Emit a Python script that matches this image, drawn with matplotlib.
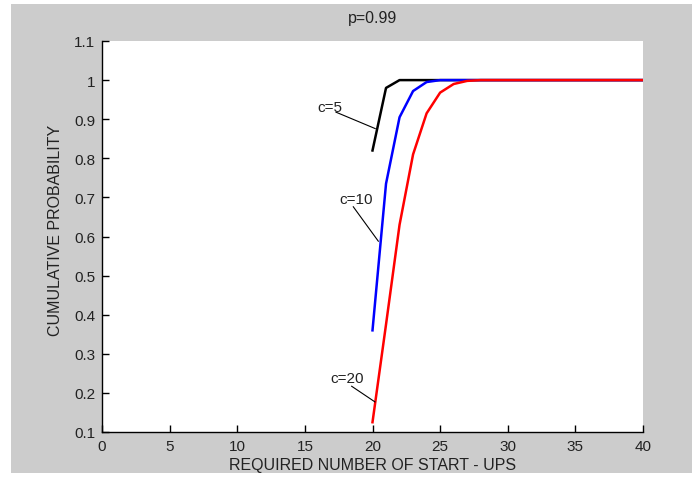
import matplotlib
matplotlib.use("Agg")
import matplotlib.pyplot as plt
from matplotlib.patches import Rectangle

plt.rcParams['font.family'] = ['Liberation Sans', 'DejaVu Sans']

# data
x_c5 = [20, 21, 22, 23, 24, 25, 26, 27, 28, 29, 30, 35, 40]
y_c5 = [0.82, 0.98, 1.0, 1.0, 1.0, 1.0, 1.0, 1.0, 1.0, 1.0, 1.0, 1.0, 1.0]
x_c10 = [20, 21, 22, 23, 24, 25, 26, 27, 28, 29, 30, 35, 40]
y_c10 = [0.36, 0.735, 0.905, 0.972, 0.995, 1.0, 1.0, 1.0, 1.0, 1.0, 1.0, 1.0, 1.0]
x_c20 = [20, 21, 22, 23, 24, 25, 26, 27, 28, 29, 30, 35, 40]
y_c20 = [0.125, 0.375, 0.63, 0.81, 0.915, 0.968, 0.99, 0.998, 1.0, 1.0, 1.0, 1.0, 1.0]

xticks = [0, 5, 10, 15, 20, 25, 30, 35, 40]
yticks = [0.1, 0.2, 0.3, 0.4, 0.5, 0.6, 0.7, 0.8, 0.9, 1.0, 1.1]
ytick_labels = ['0.1', '0.2', '0.3', '0.4', '0.5', '0.6', '0.7', '0.8', '0.9', '1', '1.1']

labels = ['c=5', 'c=10', 'c=20']
label_text_pos = [(15.95, 0.93), (17.55, 0.697), (16.85, 0.238)]
label_line_start = [(17.3, 0.918), (18.58, 0.676), (18.46, 0.217)]
label_line_end = [(20.2, 0.876), (20.43, 0.588), (20.18, 0.177)]

fig = plt.figure(figsize=(6.92, 4.81), dpi=100)
fig.patch.set_facecolor('white')
fig.patches.append(Rectangle((11 / 692, 1 - 474 / 481), 681 / 692, 469 / 481,
                             transform=fig.transFigure, facecolor='#cccccc',
                             edgecolor='none', zorder=-10))

ax = fig.add_axes([102 / 692, 1 - 433 / 481, 541 / 692, 391 / 481])
ax.set_facecolor('white')

ax.plot(x_c5, y_c5, color='black', lw=1.8)
ax.plot(x_c10, y_c10, color='#0000ff', lw=1.8)
ax.plot(x_c20, y_c20, color='#ff0000', lw=1.8)

for lab, tp, ls, le in zip(labels, label_text_pos, label_line_start, label_line_end):
    ax.text(tp[0], tp[1], lab, fontsize=11, ha='left', va='center', color='#222222')
    ax.plot([ls[0], le[0]], [ls[1], le[1]], color='black', lw=0.8)

ax.set_xlim(0, 40)
ax.set_ylim(0.1, 1.1)
ax.set_xticks(xticks)
ax.set_xticklabels([str(t) for t in xticks])
ax.set_yticks(yticks)
ax.set_yticklabels(ytick_labels)
ax.tick_params(direction='in', length=5, width=1, labelsize=11, colors='#222222')
ax.tick_params(axis='x', pad=5, color='black')
ax.tick_params(axis='y', pad=5, color='black')

ax.spines['top'].set_visible(False)
ax.spines['right'].set_visible(False)
ax.spines['left'].set_linewidth(1)
ax.spines['bottom'].set_linewidth(1)

ax.set_xlabel('REQUIRED NUMBER OF START - UPS', fontsize=11.5, labelpad=3, color='#222222')
ax.set_ylabel('CUMULATIVE PROBABILITY', fontsize=11.5, color='#222222')
ax.yaxis.set_label_coords(-0.072, 0.517)
ax.set_title('p=0.99', fontsize=11.5, pad=14, color='#222222')

fig.savefig('out.png', dpi=100, facecolor='white')
